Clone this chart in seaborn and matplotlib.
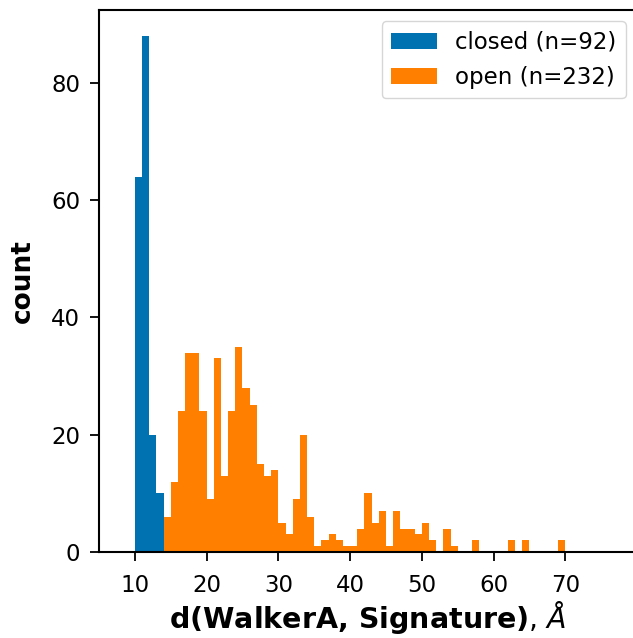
import matplotlib
matplotlib.use("Agg")
import matplotlib.pyplot as plt
import numpy as np
import pandas as pd
import seaborn as sns

# histogram counts, 1 A wide bins
closed_bins = [10, 11, 12, 13]
closed_counts = [64, 88, 20, 10]

open_bins = list(range(14, 70))
open_counts = [6, 12, 24, 34, 34, 24, 9, 33, 13, 24,      # 14-23
               35, 28, 25, 15, 13, 14, 5, 3, 9, 20,       # 24-33
               6, 1, 2, 3, 2, 1, 1, 4, 10, 5,             # 34-43
               7, 1, 7, 4, 4, 3, 5, 2, 0, 4,              # 44-53
               1, 0, 0, 2, 0, 0, 0, 0, 2, 0,              # 54-63
               2, 0, 0, 0, 0, 2]                          # 64-69

labels = ['closed (n=92)', 'open (n=232)']
colors = ['#0072B2', '#FF7F00']

sns.set_style('ticks', {'text.color': 'black', 'axes.labelcolor': 'black',
                        'xtick.color': 'black', 'ytick.color': 'black',
                        'axes.edgecolor': 'black'})
plt.rcParams['font.family'] = ['DejaVu Sans']

fig = plt.figure(figsize=(6.33, 6.38), dpi=100)
ax = fig.add_axes([0.1564, 0.1348, 0.85, 0.8495])

df_closed = pd.DataFrame({'d': np.array(closed_bins) + 0.5, 'n': closed_counts})
df_open = pd.DataFrame({'d': np.array(open_bins) + 0.5, 'n': open_counts})

sns.histplot(data=df_closed, x='d', weights='n', binwidth=1, binrange=(10, 14),
             color=colors[0], alpha=1.0, linewidth=0, label=labels[0], ax=ax)
sns.histplot(data=df_open, x='d', weights='n', binwidth=1, binrange=(14, 70),
             color=colors[1], alpha=1.0, linewidth=0, label=labels[1], ax=ax)

ax.set_xlim(5, 80)
ax.set_ylim(0, 92.4)
ax.set_xticks(np.arange(10, 71, 10))
ax.set_yticks(np.arange(0, 81, 20))

ax.set_xlabel(r'$\mathbf{d(WalkerA,\,Signature)}$, $Å$', fontsize=20.5, labelpad=2)
ax.set_ylabel('count', fontsize=19, fontweight='bold', labelpad=11)

ax.tick_params(axis='both', labelsize=16.5, length=6.5, width=1.3,
               colors='black', labelcolor='black')
ax.tick_params(axis='x', pad=9)
ax.tick_params(axis='y', pad=7)
for side in ['left', 'bottom', 'top', 'right']:
    ax.spines[side].set_visible(True)
    ax.spines[side].set_linewidth(1.5)
    ax.spines[side].set_color('black')

ax.legend(loc='upper right', fontsize=16.5, frameon=True, labelspacing=0.55)

fig.savefig('out.png', dpi=100)
